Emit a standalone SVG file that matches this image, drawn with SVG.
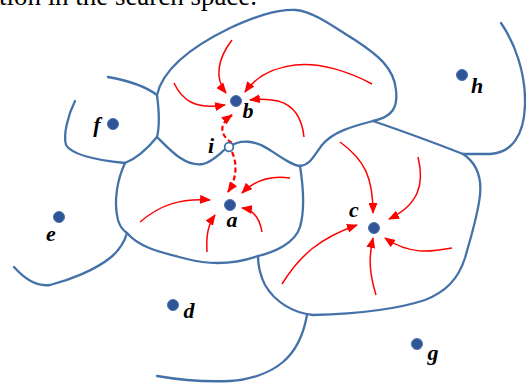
<svg xmlns="http://www.w3.org/2000/svg" width="526" height="383" viewBox="0 0 526 383">
<style>
.bd{fill:none;stroke:#4472a8;stroke-width:2.3;stroke-linecap:round;stroke-linejoin:round}
.ar{fill:none;stroke:#ff0000;stroke-width:1.5;marker-end:url(#ah)}
.ds{fill:none;stroke:#ff0000;stroke-width:2.2;stroke-dasharray:5 3;marker-end:url(#ah)}
.dot{fill:#2f5597;stroke:#4a72b0;stroke-width:1}
.lb{font-family:"Liberation Serif","DejaVu Serif",serif;font-style:italic;font-weight:bold;font-size:22px;fill:#000;text-anchor:middle}
.cap{font-family:"Liberation Serif","Times New Roman",serif;font-size:27px;fill:#000}
</style>
<defs>
<marker id="ah" markerUnits="userSpaceOnUse" markerWidth="11" markerHeight="9" refX="10" refY="4.5" orient="auto">
<path d="M0,0 L11,4.5 L0,9 Z" fill="#ff0000"/>
</marker>
</defs>
<text class="cap" x="-1" y="5" textLength="258">tion in the search space.</text>
<g id="boundaries">
<path class="bd" d="M157,95 C163,68 195,45 230,28 C252,18 275,9 296,10 C315,12 335,28 355,40 C378,55 394,68 396,90 C398,108 392,117 373,121"/>
<path class="bd" d="M373,121 C350,127 333,132 322,145 C313,157 310,165 300,166"/>
<path class="bd" d="M157,137 C170,150 185,167 203,164 C215,161 222,150 229,147 C240,139 255,140 270,150 C282,158 292,165 300,166"/>
<path class="bd" d="M108,77 C125,80 145,86 157,95"/>
<path class="bd" d="M157,95 C159,110 160,125 157,137"/>
<path class="bd" d="M75,101 C68,115 63,135 66,145 C72,155 95,160 125,163"/>
<path class="bd" d="M157,137 C148,148 138,158 125,163"/>
<path class="bd" d="M125,163 C118,178 113,200 118,220 C120,227 124,231 127,233"/>
<path class="bd" d="M127,233 C140,248 160,252 187,259 C210,265 235,264 258,256"/>
<path class="bd" d="M300,166 C303,185 305,210 300,227 C295,243 275,252 258,256"/>
<path class="bd" d="M373,121 C405,132 435,143 463,154"/>
<path class="bd" d="M463,154 C475,162 482,175 480,195 C478,215 470,240 465,258 C458,280 445,292 425,300 C395,310 350,314 313,315 C293,313 275,302 265,285 C260,275 258,265 258,256"/>
<path class="bd" d="M307,315 C304,332 297,350 283,362 C270,373 250,380 230,381 C205,382 180,380 157,376"/>
<path class="bd" d="M14,267 C22,276 35,287 50,285 C70,280 95,270 110,258 C120,250 125,240 127,233"/>
<path class="bd" d="M501,23 C514,42 526,72 525,105 C524,135 512,153 490,154 C480,154 470,154 463,154"/>
</g>
<g id="connectors">
<path class="ar" d="M232,40 C218,58 214,78 226,93"/>
<path class="ar" d="M174,83 C182,100 195,110 225,105"/>
<path class="ar" d="M372,84 C350,72 320,62 295,65 C270,68 255,78 245,92"/>
<path class="ar" d="M304,137 C302,118 293,105 278,101 C268,99 258,99 250,100"/>
<path class="ds" d="M232,143 C220,135 218,125 232,115"/>
<path class="ds" d="M232,152 C238,165 236,180 228,192"/>
<path class="ar" d="M290,178 C270,175 255,180 242,193"/>
<path class="ar" d="M140,222 C160,205 180,198 210,200"/>
<path class="ar" d="M207,252 C206,235 208,225 215,215"/>
<path class="ar" d="M262,232 C260,220 255,210 242,208"/>
<path class="ar" d="M340,142 C365,160 373,178 373,213"/>
<path class="ar" d="M418,157 C425,185 418,205 389,219"/>
<path class="ar" d="M282,284 C300,255 320,238 357,225"/>
<path class="ar" d="M376,295 C370,275 368,260 373,238"/>
<path class="ar" d="M452,248 C430,252 410,255 385,238"/>
</g>
<g id="node-a"><circle class="dot" cx="230" cy="205" r="5.5"/><text class="lb" x="232" y="227">a</text></g>
<g id="node-b"><circle class="dot" cx="236" cy="101" r="5.5"/><text class="lb" x="248" y="118">b</text></g>
<g id="node-c"><circle class="dot" cx="374" cy="228" r="5.5"/><text class="lb" x="354" y="217">c</text></g>
<g id="node-d"><circle class="dot" cx="173" cy="305" r="5.5"/><text class="lb" x="189" y="318">d</text></g>
<g id="node-e"><circle class="dot" cx="59" cy="217" r="5.5"/><text class="lb" x="51" y="241">e</text></g>
<g id="node-f"><circle class="dot" cx="113" cy="124" r="5.5"/><text class="lb" x="97" y="132">f</text></g>
<g id="node-g"><circle class="dot" cx="417" cy="344" r="5.5"/><text class="lb" x="433" y="360">g</text></g>
<g id="node-h"><circle class="dot" cx="462" cy="75" r="5.5"/><text class="lb" x="477" y="93">h</text></g>
<g id="node-i"><circle cx="229" cy="147" r="4.3" fill="#fff" stroke="#4472a8" stroke-width="1.8"/><text class="lb" x="211" y="153">i</text></g>
</svg>
